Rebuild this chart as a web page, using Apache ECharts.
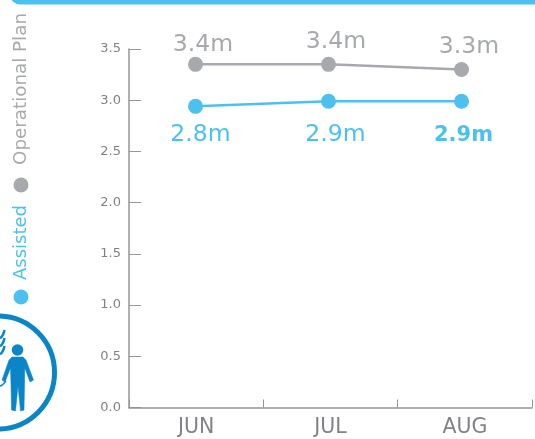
<!DOCTYPE html>
<html>
<head>
<meta charset="utf-8">
<style>
  html, body { margin: 0; padding: 0; background: #fff; }
  #chart { width: 535px; height: 439px; }
</style>
<script src="https://cdn.jsdelivr.net/npm/echarts@6/dist/echarts.min.js"></script>
</head>
<body>
<div id="chart"></div>
<script>
const months = ['JUN', 'JUL', 'AUG']
const planValues = [3.35, 3.35, 3.3]
const assistedValues = [2.94, 2.99, 2.99]
const planLabels = ['3.4m', '3.4m', '3.3m']
const assistedLabels = ['2.8m', '2.9m', '2.9m']
const yTicks = ['0.0', '0.5', '1.0', '1.5', '2.0', '2.5', '3.0', '3.5']

const GREY = '#a7a9ac'
const CYAN = '#4cc1ef'
const BLUE = '#0a85c7'
const AXIS = '#939598'
const FONT = '"DejaVu Sans", Verdana, sans-serif'

const chart = echarts.init(document.getElementById('chart'))

// 数据标签的逐点调整
const planData = planValues.map((v, i) => ({
  value: v,
  label: i === 0 ? { distance: 0 } : {}
}))
const assistedData = assistedValues.map((v, i) => ({
  value: v,
  label: i === 0 ? { distance: 9, offset: [5, 0] }
    : i === 2 ? { fontWeight: 'bold', fontSize: 21, distance: 16, offset: [2, 0] } : {}
}))

chart.setOption({
  animation: false,
  backgroundColor: '#fff',
  // 第一个 grid 画坐标轴，第二个 grid 画折线（原图的点比类目中心略靠左）
  grid: [
    { left: 129, right: 3, top: 49, bottom: 31.5 },
    { left: 129, right: 7, top: 49, bottom: 31.5 }
  ],
  xAxis: [
    {
      type: 'category',
      data: months,
      gridIndex: 0,
      axisLine: { lineStyle: { color: AXIS, width: 1.5 } },
      axisTick: { show: true, inside: true, length: 8, lineStyle: { color: AXIS, width: 1 } },
      axisLabel: { color: '#808285', fontSize: 20.5, fontFamily: FONT, margin: 10 }
    },
    { type: 'category', data: months, gridIndex: 1, show: false }
  ],
  yAxis: [
    {
      type: 'value',
      gridIndex: 0,
      min: 0,
      max: 3.5,
      interval: 0.5,
      axisLine: { show: true, lineStyle: { color: AXIS, width: 1.5 } },
      axisTick: { show: true, inside: true, length: 12, lineStyle: { color: AXIS, width: 1 } },
      splitLine: { show: false },
      axisLabel: {
        color: '#808285',
        fontSize: 13,
        fontFamily: FONT,
        margin: 8,
        formatter: (v, i) => yTicks[i]
      }
    },
    { type: 'value', gridIndex: 1, min: 0, max: 3.5, show: false }
  ],
  series: [
    {
      name: 'Operational Plan',
      type: 'line',
      xAxisIndex: 1,
      yAxisIndex: 1,
      data: planData,
      symbol: 'circle',
      symbolSize: 15,
      lineStyle: { color: GREY, width: 2.5 },
      itemStyle: { color: GREY },
      label: {
        show: true,
        position: 'top',
        distance: 3,
        offset: [7.5, 0],
        color: GREY,
        fontSize: 23.5,
        fontFamily: FONT,
        formatter: p => planLabels[p.dataIndex]
      }
    },
    {
      name: 'Assisted',
      type: 'line',
      xAxisIndex: 1,
      yAxisIndex: 1,
      data: assistedData,
      symbol: 'circle',
      symbolSize: 15,
      lineStyle: { color: CYAN, width: 2.5 },
      itemStyle: { color: CYAN },
      label: {
        show: true,
        position: 'bottom',
        distance: 14,
        offset: [7, 0],
        color: CYAN,
        fontSize: 23.5,
        fontFamily: FONT,
        formatter: p => assistedLabels[p.dataIndex]
      }
    }
  ],
  graphic: [
    // 顶部色条
    { type: 'rect', shape: { x: 10, y: -20, width: 560, height: 24.5, r: 10 }, style: { fill: CYAN } },
    // 纵向图例
    { type: 'circle', shape: { cx: 21, cy: 185, r: 7.5 }, style: { fill: GREY } },
    { type: 'circle', shape: { cx: 21, cy: 297, r: 7.5 }, style: { fill: CYAN } },
    {
      type: 'text', x: 21, y: 165, rotation: Math.PI / 2,
      style: { text: 'Operational Plan', fill: GREY, font: '18.3px ' + FONT, align: 'left', verticalAlign: 'middle' }
    },
    {
      type: 'text', x: 21, y: 280, rotation: Math.PI / 2,
      style: { text: 'Assisted', fill: CYAN, font: '18px ' + FONT, align: 'left', verticalAlign: 'middle' }
    },
    // 图标
    { type: 'circle', shape: { cx: -2, cy: 372.5, r: 56.5 }, style: { fill: 'none', stroke: BLUE, lineWidth: 5 } },
    { type: 'circle', shape: { cx: 17.5, cy: 350, r: 5.8 }, style: { fill: BLUE } },
    {
      type: 'polygon',
      shape: {
        points: [[12, 357], [23, 357], [26, 360], [33.5, 380], [30, 382], [24.8, 368], [24.5, 385], [24, 410],
          [20.5, 411], [18, 386], [15.5, 411], [11.5, 410], [11, 385], [10.5, 368], [5, 382], [2, 380], [9, 360]]
      },
      style: { fill: BLUE, stroke: BLUE, lineWidth: 0.5, lineJoin: 'round' }
    },
    { type: 'bezierCurve', shape: { x1: 0, y1: 338, cpx1: 3, cpy1: 337, x2: 4.5, y2: 330 }, style: { fill: 'none', stroke: BLUE, lineWidth: 2.5 } },
    { type: 'bezierCurve', shape: { x1: 0, y1: 346, cpx1: 3, cpy1: 345, x2: 4.5, y2: 338 }, style: { fill: 'none', stroke: BLUE, lineWidth: 2.5 } },
    { type: 'bezierCurve', shape: { x1: 0, y1: 354, cpx1: 3, cpy1: 353, x2: 4.5, y2: 346 }, style: { fill: 'none', stroke: BLUE, lineWidth: 2.5 } },
    { type: 'bezierCurve', shape: { x1: 0, y1: 386, cpx1: 2, cpy1: 386, x2: 6, y2: 381 }, style: { fill: 'none', stroke: BLUE, lineWidth: 1.5 } }
  ]
})

window.addEventListener('resize', () => chart.resize())
</script>
</body>
</html>
